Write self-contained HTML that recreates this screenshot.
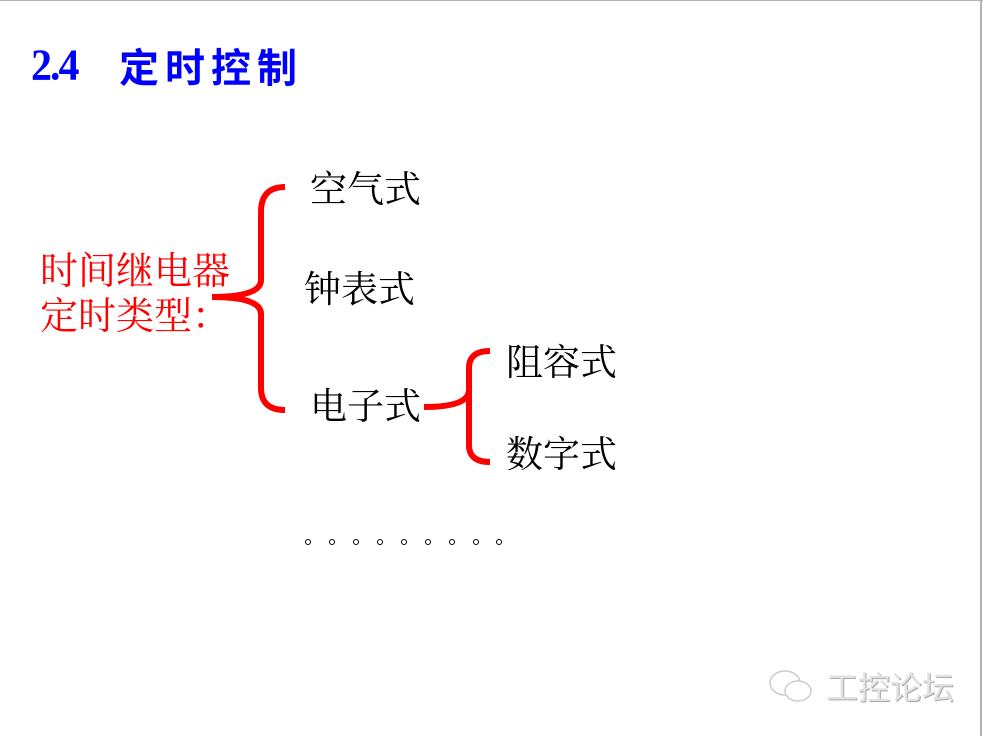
<!DOCTYPE html>
<html><head><meta charset="utf-8"><style>
html,body{margin:0;padding:0}
body{width:983px;height:736px;position:relative;background:#fff;overflow:hidden;font-family:"Liberation Serif","Noto Serif CJK SC",serif}
.t{position:absolute;white-space:nowrap;line-height:1}
.k{color:#000;font-size:37px}
.r{color:#f00;font-size:38px}
.d{position:absolute;top:539px;width:6px;height:6px;border:1.3px solid #000;border-radius:50%;box-sizing:border-box}
</style></head><body>
<div style="position:absolute;left:0;top:0;width:983px;height:1px;background:#b0b4bc"></div>
<div style="position:absolute;left:980px;top:0;width:2px;height:736px;background:#b0b4bc"></div>
<div class="t" style="left:31px;top:44px;font-size:42px;font-weight:bold;color:#00f;letter-spacing:-2px;font-family:'Liberation Serif',serif;transform:scaleY(1.05);transform-origin:top left">2.4</div>
<div class="t" style="left:119px;top:45px;font-size:40px;font-weight:bold;color:#00f;letter-spacing:6px;font-family:'Noto Sans CJK SC',sans-serif">定时控制</div>
<div class="t r" style="left:40px;top:253px">时间继电器</div>
<div class="t r" style="left:40px;top:298px">定时类型：</div>
<div class="t k" style="left:310px;top:172px">空气式</div>
<div class="t k" style="left:304px;top:272px">钟表式</div>
<div class="t k" style="left:310px;top:389px">电子式</div>
<div class="t k" style="left:506px;top:345px">阻容式</div>
<div class="t k" style="left:506px;top:437px">数字式</div>
<div class="d" style="left:305px"></div><div class="d" style="left:329px"></div><div class="d" style="left:353px"></div>
<div class="d" style="left:377px"></div><div class="d" style="left:401px"></div><div class="d" style="left:425px"></div>
<div class="d" style="left:449px"></div><div class="d" style="left:473px"></div><div class="d" style="left:496px"></div>
<svg width="983" height="736" style="position:absolute;left:0;top:0" fill="none" stroke="#f00" stroke-width="6" stroke-linecap="butt">
<path d="M285 187 Q261 187 261 212 L261 280 Q261 297 212 297 Q261 297 261 314 L261 388 Q261 410 285 410"/>
<path d="M424 407 Q469 407 469 390 L469 368 Q469 351 490 351 M469 390 L469 445 Q469 462 490 462"/>
</svg>
<svg width="60" height="40" style="position:absolute;left:768px;top:668px" fill="#fff" stroke="#ccc" stroke-width="1.5">
<ellipse cx="17" cy="15" rx="15" ry="12"/><ellipse cx="30" cy="23" rx="13" ry="10"/>
</svg>
<div class="t" style="left:826px;top:670px;font-size:32px;color:#e2e2e2;font-family:'Noto Sans CJK SC',sans-serif;text-shadow:1px 1px 0 #aaa">工控论坛</div>
</body></html>
